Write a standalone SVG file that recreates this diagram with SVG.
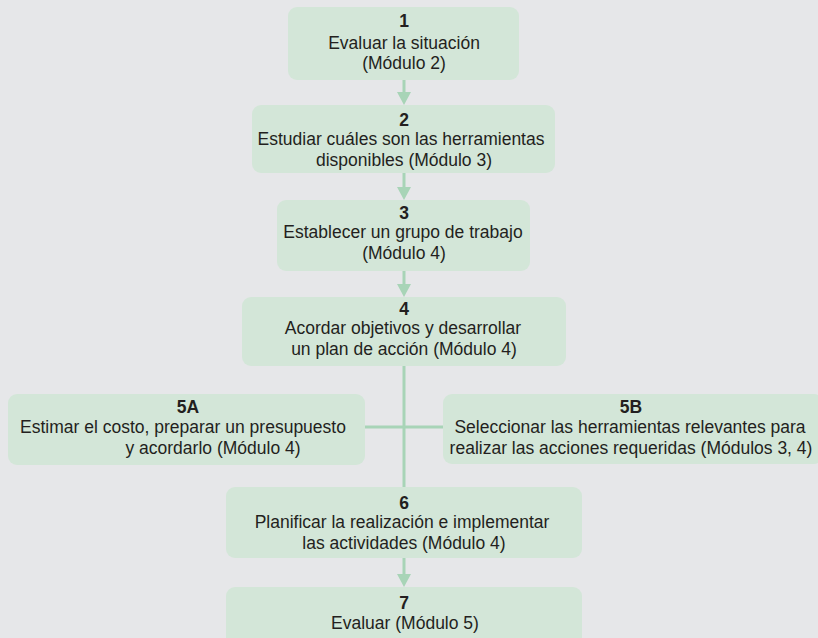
<svg xmlns="http://www.w3.org/2000/svg" width="818" height="638" viewBox="0 0 818 638">
<defs>
<style>
.box{fill:#d3e6d8;}
.t{font-family:"Liberation Sans",Arial,sans-serif;font-size:17.5px;fill:#231f20;text-anchor:middle;}
.n{font-weight:bold;}
.c{stroke:#a8d4b7;stroke-width:3;fill:none;}
.ah{fill:#a8d4b7;}
</style>
</defs>
<rect width="818" height="638" fill="#e6e7e9"/>
<g id="connectors">
<line class="c" x1="404" y1="80" x2="404" y2="94"/>
<path class="ah" d="M397,92 L411,92 L404,105 Z"/>
<line class="c" x1="404" y1="173" x2="404" y2="189"/>
<path class="ah" d="M397,187 L411,187 L404,200 Z"/>
<line class="c" x1="404" y1="271" x2="404" y2="286"/>
<path class="ah" d="M397,284 L411,284 L404,297 Z"/>
<line class="c" x1="404" y1="366" x2="404" y2="487"/>
<line class="c" x1="365" y1="427" x2="443" y2="427"/>
<line class="c" x1="404" y1="558" x2="404" y2="576"/>
<path class="ah" d="M397,574 L411,574 L404,587 Z"/>
</g>
<g id="node1">
<rect class="box" x="288" y="7" width="231" height="73" rx="9"/>
<text class="t n" x="404" y="27">1</text>
<text class="t" x="404" y="49">Evaluar la situación</text>
<text class="t" x="404" y="69">(Módulo 2)</text>
</g>
<g id="node2">
<rect class="box" x="252" y="105" width="303" height="68" rx="9"/>
<text class="t n" x="404" y="126">2</text>
<text class="t" x="401" y="145">Estudiar cuáles son las herramientas</text>
<text class="t" x="404" y="166">disponibles (Módulo 3)</text>
</g>
<g id="node3">
<rect class="box" x="277" y="200" width="253" height="71" rx="9"/>
<text class="t n" x="404" y="219">3</text>
<text class="t" x="403" y="238">Establecer un grupo de trabajo</text>
<text class="t" x="404" y="259">(Módulo 4)</text>
</g>
<g id="node4">
<rect class="box" x="242" y="297" width="324" height="69" rx="9"/>
<text class="t n" x="404" y="315">4</text>
<text class="t" x="403" y="334">Acordar objetivos y desarrollar</text>
<text class="t" x="404" y="355">un plan de acción (Módulo 4)</text>
</g>
<g id="node5A">
<rect class="box" x="8" y="394" width="357" height="71" rx="9"/>
<text class="t n" x="188" y="413">5A</text>
<text class="t" x="183" y="433">Estimar el costo, preparar un presupuesto</text>
<text class="t" x="213" y="454">y acordarlo (Módulo 4)</text>
</g>
<g id="node5B">
<rect class="box" x="443" y="394" width="380" height="70" rx="9"/>
<text class="t n" x="631" y="413">5B</text>
<text class="t" x="630" y="433">Seleccionar las herramientas relevantes para</text>
<text class="t" x="631" y="454">realizar las acciones requeridas (Módulos 3, 4)</text>
</g>
<g id="node6">
<rect class="box" x="226" y="487" width="356" height="71" rx="9"/>
<text class="t n" x="404" y="509">6</text>
<text class="t" x="402" y="528">Planificar la realización e implementar</text>
<text class="t" x="404" y="549">las actividades (Módulo 4)</text>
</g>
<g id="node7">
<rect class="box" x="226" y="587" width="356" height="60" rx="9"/>
<text class="t n" x="404" y="609">7</text>
<text class="t" x="405" y="629">Evaluar (Módulo 5)</text>
</g>
</svg>
